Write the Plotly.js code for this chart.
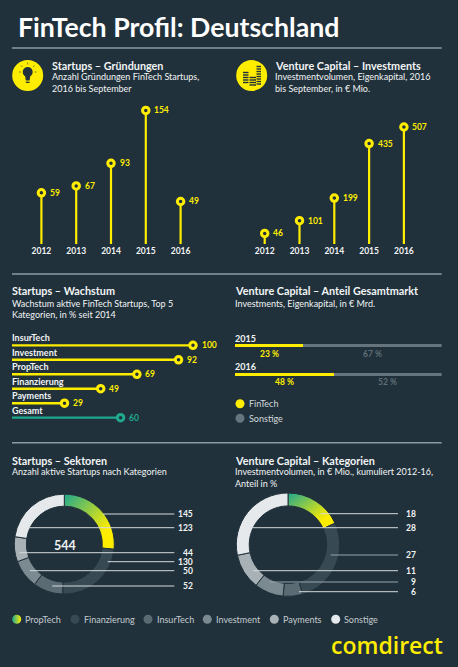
<!DOCTYPE html>
<html><head><meta charset="utf-8">
<script src="https://cdn.plot.ly/plotly-3.0.1.min.js"></script>
<style>html,body{margin:0;padding:0;background:#20313b;overflow:hidden}#c{width:458px;height:667px}</style>
</head><body><div id="c"></div>
<script>
// ---- data ----
const years = ['2012','2013','2014','2015','2016'];
const startups = [59,67,93,154,49];
const venture = [46,101,199,435,507];
const growthCats = ['InsurTech','Investment','PropTech','Finanzierung','Payments'];
const growthVals = [100,92,69,49,29];
const totalCat = ['Gesamt'];
const totalVal = [60];
const shareYears = ['2015','2016'];
const shareFin = [33,48];
const shareOther = [67,52];
const shareFinLabels = ['23 %','48 %'];
const shareOtherLabels = ['67 %','52 %'];
const shareLegend = ['FinTech','Sonstige'];
const sectors = ['PropTech','Finanzierung','InsurTech','Investment','Payments','Sonstige'];
const sectorStartups = [145,130,52,50,44,123];
const sectorVenture = [18,27,6,9,11,28];
const totalStartups = '544';
const leaderLabelsL = ['145','123','44','130','50','52'];
const leaderLabelsR = ['18','28','27','11','9','6'];
const titleText = 'FinTech Profil: Deutschland';
const logoText = 'comdirect';

// ---- style ----
const BG='#20313b', YEL='#ffed00', TEAL='#1fa88e', GREY='#66757d', WH='#f2f4f5';
const sliceCols=['#ffed00','#374a54','#5b6b74','#7b8990','#a7b1b6','#e6e9ec'];
const FONT='Lato, "Open Sans", sans-serif';
const W=458,H=667;
const dx=(a,b)=>[a/W,b/W], dy=(t,b)=>[1-b/H,1-t/H];

const ann=[], shp=[];
function T(x,y,text,size,opts={}){
  const ex=opts.extra||{};
  const off=ex.xanchor==='right'?1:ex.xanchor==='center'?0:-1;
  ann.push(Object.assign({xref:'x',yref:'y',x:x+off,y,text,showarrow:false,xanchor:'left',yanchor:'middle',borderpad:0,
    font:{family:opts.family||FONT,size,color:opts.color||WH,weight:opts.weight||400}},ex));
}
function A(xa,ya,x,y,text,size,color,ex){
  ann.push(Object.assign({xref:xa,yref:ya,x,y,text,showarrow:false,borderpad:0,
    font:{family:FONT,size,weight:700,color}},ex));
}
function L(x0,y0,x1,y1,color,width){shp.push({type:'line',xref:'x',yref:'y',x0,y0,x1,y1,layer:'above',line:{color,width}});}
function C(cx,cy,r,fill){shp.push({type:'circle',xref:'x',yref:'y',x0:cx-r,x1:cx+r,y0:cy-r,y1:cy+r,fillcolor:fill,line:{width:0},layer:'below'});}

// headers
T(18.3,27,titleText,26.7,{weight:700,color:'#ffffff'});
[[52,65,'Startups – Gründungen',[ 'Anzahl Gründungen FinTech Startups,','2016 bis September'],[76,88]],
 [274.7,65,'Venture Capital – Investments',['Investmentvolumen, Eigenkapital, 2016','bis September, in € Mio.'],[76,88]],
 [12,290.7,'Startups – Wachstum',['Wachstum aktive FinTech Startups, Top 5','Kategorien, in % seit 2014'],[303.3,314.5]],
 [235,290.7,'Venture Capital – Anteil Gesamtmarkt',['Investments, Eigenkapital, in € Mrd.'],[303.7]],
 [12,460,'Startups – Sektoren',['Anzahl aktive Startups nach Kategorien'],[471.3]],
 [235,460,'Venture Capital – Kategorien',['Investmentvolumen, in € Mio., kumuliert 2012-16,','Anteil in %'],[471.3,483.3]]
].forEach(h=>{T(h[0],h[1],h[2],10.8,{weight:700});h[3].forEach((s,i)=>T(h[0],h[4][i],s,9));});

// rules
[48,274,442.7].forEach(y=>L(12,y,441.7,y,'#8d9aa1',1.5));

// icons
C(27.7,75.5,15.5,YEL); C(251.7,75.5,15.5,YEL);
shp.push({type:'circle',xref:'x',yref:'y',x0:22.7,x1:32.7,y0:67,y1:77,fillcolor:BG,line:{width:0},layer:'above'});
shp.push({type:'path',xref:'x',yref:'y',path:'M25 75 L30.4 75 L29.6 80.5 L25.8 80.5 Z',fillcolor:BG,line:{width:0},layer:'above'});
L(25.8,82.3,29.6,82.3,BG,1.3);
[[27.7,62.5,27.7,64.5],[21,65.5,22.4,67],[34.4,65.5,33,67],[19,72,20.8,72],[36.4,72,34.6,72]].forEach(r=>L(r[0],r[1],r[2],r[3],BG,.6));
[[243,248.5,[72.5,75,77.5,80,82.5]],[249.5,256,[77.5,80,82.5,85]],[256.5,261,[66.5,69,71.5,74,76.5,79,81.5,84]]].forEach(c=>c[2].forEach(y=>L(c[0],y,c[1],y,BG,1.4)));

// value labels next to the lollipops
const valEx={xanchor:'left',yanchor:'middle',xshift:7.5};
startups.forEach((v,i)=>A('x2','y2',i,v,String(v),8.5,YEL,valEx));
venture.forEach((v,i)=>A('x3','y3',i,v,String(v),8.5,YEL,valEx));
// bars: growth names and values
const barCats=growthCats.concat(totalCat);
const barVals=growthVals.concat(totalVal);
barCats.forEach((c,i)=>{
  A('x4','y4',0,i,c,9,WH,{xanchor:'left',yanchor:'bottom',yshift:1,xshift:-1});
  A('x4','y4',barVals[i],i,String(barVals[i]),8.5,i===5?TEAL:YEL,valEx);
});
// share labels
shareYears.forEach((c,i)=>{
  A('x5','y5',0,i,c,9,WH,{xanchor:'left',yanchor:'bottom',yshift:1,xshift:-1});
  A('x5','y5',shareFin[i]/2,i,shareFinLabels[i],8.5,YEL,{yanchor:'top',yshift:-2});
  A('x5','y5',shareFin[i]+shareOther[i]/2,i,shareOtherLabels[i],8.5,'#5f6e76',{yanchor:'top',yshift:-2});
});

// donut centre, leaders
T(65,545,totalStartups,12.5,{weight:700,extra:{xanchor:'center'}});
[[103,514],[28,527.7],[19.3,552.7],[107.7,561.7],[30,570.7],[52.3,586]].forEach((p,i)=>{
  L(p[0],p[1],174.3,p[1],'#d5dadd',1);
  T(192.7,p[1],leaderLabelsL[i],8.5,{weight:700,extra:{xanchor:'right'}});
});
[[320.7,513.7,'#d5dadd'],[250.7,527.7,'#d5dadd'],[330.7,555,'#98a4aa'],[253,570.7,'#d5dadd'],[269.7,582,'#98a4aa'],[299,591.7,'#d5dadd']].forEach((p,i)=>{
  L(p[0],p[1],398,p[1],p[2],1);
  T(416.3,p[1],leaderLabelsR[i],8.5,{weight:700,extra:{xanchor:'right'}});
});

// legends
[[shareLegend[0],240,403.7],[shareLegend[1],240,418.3]].forEach(l=>T(l[1]+8.7,l[2],l[0],9,{color:'#d5dadd'}));
const sectorLegendX=[16.7,75,148,207.3,274.3,335.7];
sectors.forEach((s,i)=>T(sectorLegendX[i]+8.7,619.3,s,9,{color:'#c5ccd0'}));

// logo
T(442.5,644.5,logoText,23,{weight:600,family:'"Open Sans", Lato, sans-serif',color:YEL,extra:{xanchor:'right'}});

// ---- traces ----
const hidden={visible:false,fixedrange:true};
function lolly(vals,xa,ya){
  return {type:'scatter',x:years.map((_,i)=>i),y:vals,xaxis:xa,yaxis:ya,mode:'markers',cliponaxis:false,hoverinfo:'skip',
    marker:{size:6.5,color:BG,line:{color:YEL,width:3}},
    error_y:{type:'data',symmetric:false,array:vals.map(()=>0),arrayminus:vals,width:0,thickness:2.2,color:YEL}};
}
function hbar(idx,vals,col,xa,ya){
  return {type:'scatter',x:vals,y:idx,xaxis:xa,yaxis:ya,mode:'markers',cliponaxis:false,hoverinfo:'skip',
    marker:{size:6.5,color:BG,line:{color:col,width:3}},
    error_x:{type:'data',symmetric:false,array:vals.map(()=>0),arrayminus:vals,width:0,thickness:2.4,color:col}};
}
function stack(vals,col){
  return {type:'bar',orientation:'h',x:vals,y:shareYears.map((_,i)=>i),xaxis:'x5',yaxis:'y5',width:0.1,marker:{color:col},hoverinfo:'skip'};
}
function pie(vals,dom,hole){
  return {type:'pie',values:vals,labels:sectors,sort:false,direction:'clockwise',rotation:0,hole,textinfo:'none',hoverinfo:'skip',
    showlegend:false,domain:dom,marker:{colors:sliceCols,line:{color:BG,width:1}}};
}
function legendMarks(xs,ys,cols,extra){
  return {type:'scatter',x:xs,y:ys,xaxis:'x',yaxis:'y',mode:'markers',cliponaxis:false,hoverinfo:'skip',
    marker:Object.assign({size:9,color:cols,line:{width:0}},extra||{})};
}
const data=[
  lolly(startups,'x2','y2'),
  lolly(venture,'x3','y3'),
  hbar(growthCats.map((_,i)=>i),growthVals,YEL,'x4','y4'),
  hbar([growthCats.length],totalVal,TEAL,'x4','y4'),
  stack(shareFin,YEL),
  stack(shareOther,GREY),
  pie(sectorStartups,{x:dx(14.3,114.3),y:dy(494,594.3)},0.76),
  pie(sectorVenture,{x:dx(236.3,339.7),y:dy(492.7,596.7)},0.75),
  legendMarks([240,240],[403.7,418.3],[YEL,GREY]),
  legendMarks([sectorLegendX[0]],[619.3],[TEAL],{gradient:{type:'horizontal',color:YEL}}),
  legendMarks(sectorLegendX.slice(1),[619.3,619.3,619.3,619.3,619.3],sliceCols.slice(1))
];
const tickFont={family:FONT,size:8.5,weight:700,color:WH};
const xTick=(d,a)=>({domain:d,anchor:a,range:[-0.5,4.5],tickmode:'array',tickvals:years.map((_,i)=>i),ticktext:years,showgrid:false,zeroline:false,showline:false,ticks:'',ticklen:0,tickfont:tickFont,fixedrange:true});
const layout={
  width:W,height:H,margin:{l:0,r:0,t:0,b:0},paper_bgcolor:BG,plot_bgcolor:'rgba(0,0,0,0)',showlegend:false,barmode:'stack',bargap:0,
  xaxis:{domain:[0,1],range:[0,W],...hidden},
  yaxis:{domain:[0,1],range:[H,0],...hidden},
  xaxis2:xTick(dx(24,198),'y2'),
  yaxis2:{domain:dy(100,244),range:[0,166],anchor:'x2',...hidden},
  xaxis3:xTick(dx(247.3,421.3),'y3'),
  yaxis3:{domain:dy(100,244),range:[0,624],anchor:'x3',...hidden},
  xaxis4:{domain:dx(12,193),range:[0,100],anchor:'y4',...hidden},
  yaxis4:{domain:dy(338.1,424.9),range:[5.5,-0.5],anchor:'x4',...hidden},
  xaxis5:{domain:dx(235,441.7),range:[0,100],anchor:'y5',...hidden},
  yaxis5:{domain:dy(331.3,388.7),range:[1.5,-0.5],anchor:'x5',...hidden},
  annotations:ann,shapes:shp,
  font:{family:FONT}
};
Plotly.newPlot('c',data,layout,{staticPlot:true,displayModeBar:false}).then(gd=>{
  const svg=gd.querySelector('svg.main-svg');
  const defs=svg.querySelector('defs');
  const ns='http://www.w3.org/2000/svg';
  const g=document.createElementNS(ns,'linearGradient');
  g.setAttribute('id','propGrad');g.setAttribute('x1','0');g.setAttribute('y1','0');g.setAttribute('x2','1');g.setAttribute('y2','1');
  [['0%',TEAL],['75%',YEL],['100%',YEL]].forEach(s=>{const st=document.createElementNS(ns,'stop');st.setAttribute('offset',s[0]);st.setAttribute('stop-color',s[1]);g.appendChild(st);});
  defs.appendChild(g);
  gd.querySelectorAll('.pielayer .trace').forEach(tr=>{
    const p=tr.querySelector('.slice path.surface');
    if(p)p.style.fill='url(#propGrad)';
  });
});
</script></body></html>
